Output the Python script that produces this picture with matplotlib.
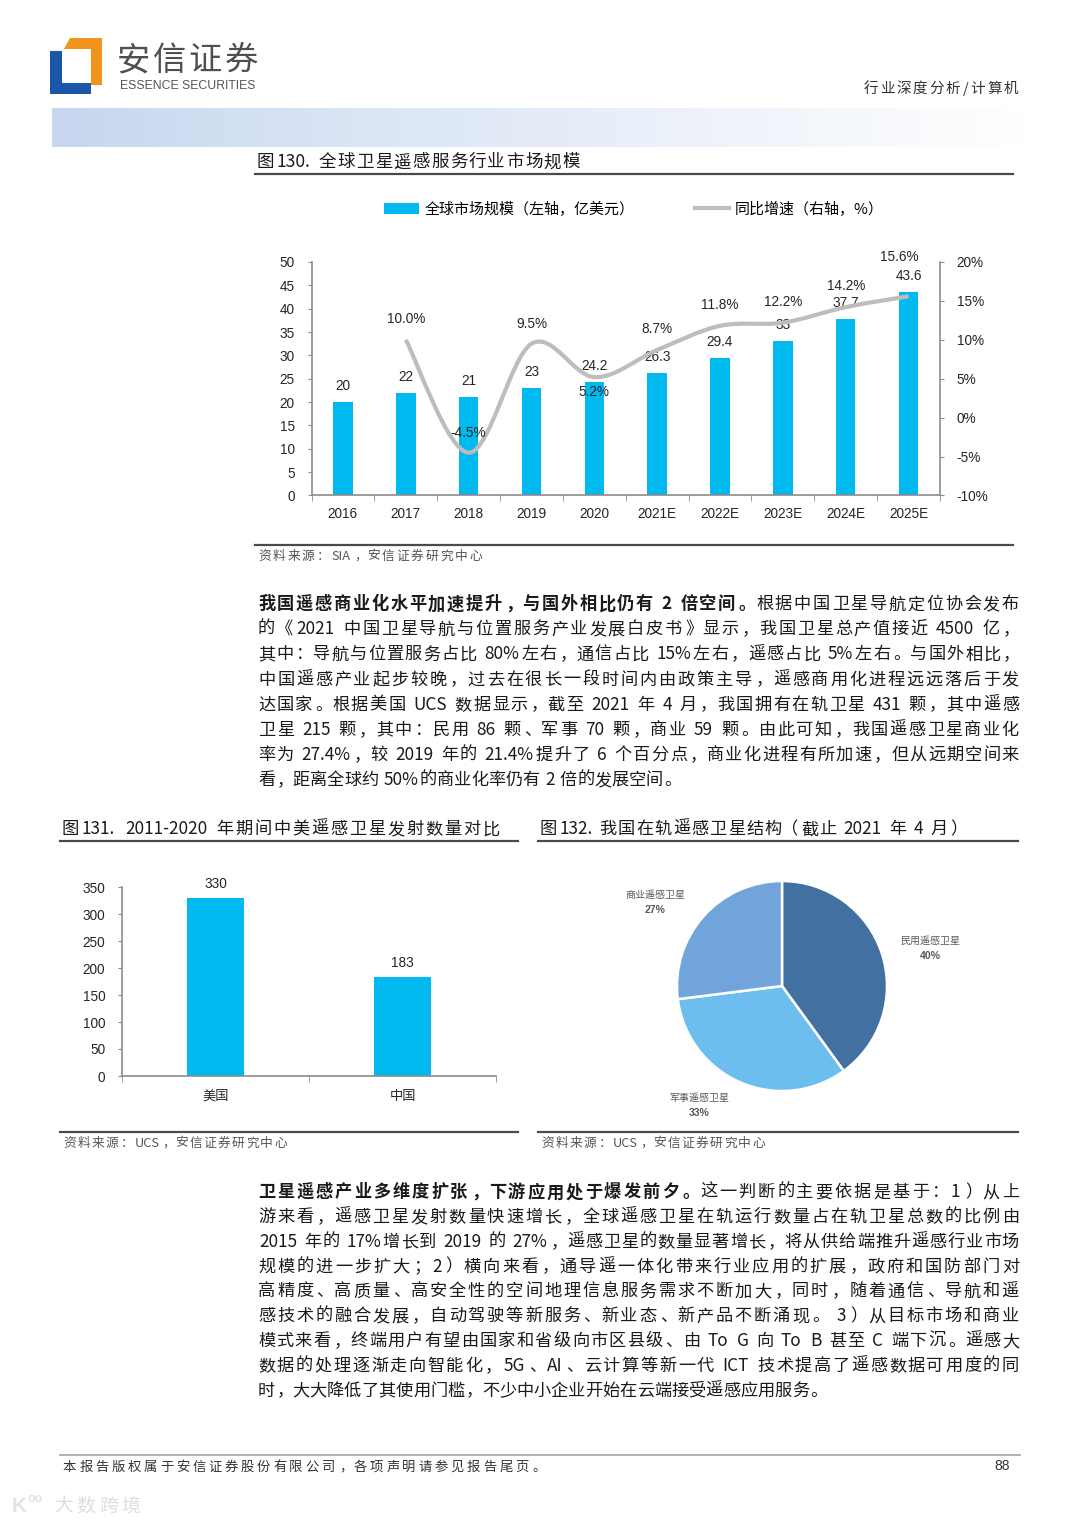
import re
import numpy as np
import matplotlib
matplotlib.use('Agg')
import matplotlib.pyplot as plt
from matplotlib.font_manager import FontProperties
from matplotlib.patches import Polygon, PathPatch
from matplotlib.path import Path
from matplotlib.lines import Line2D

# ---- data -------------------------------------------------------------------
years = ['2016', '2017', '2018', '2019', '2020',
         '2021E', '2022E', '2023E', '2024E', '2025E']
market = [20, 22, 21, 23, 24.2, 26.3, 29.4, 33, 37.7, 43.6]
growth = [10.0, -4.5, 9.5, 5.2, 8.7, 11.8, 12.2, 14.2, 15.6]   # 2017 .. 2025E

countries = ['美国', '中国']
launches = [330, 183]

pie_names = ['民用遥感卫星', '军事遥感卫星', '商业遥感卫星']
pie_vals = [40, 33, 27]

para1 = [
    '我国遥感商业化水平加速提升，与国外相比仍有 2 倍空间。根据中国卫星导航定位协会发布',
    '的《2021 中国卫星导航与位置服务产业发展白皮书》显示，我国卫星总产值接近 4500 亿，',
    '其中：导航与位置服务占比 80%左右，通信占比 15%左右，遥感占比 5%左右。与国外相比，',
    '中国遥感产业起步较晚，过去在很长一段时间内由政策主导，遥感商用化进程远远落后于发',
    '达国家。根据美国 UCS 数据显示，截至 2021 年 4 月，我国拥有在轨卫星 431 颗，其中遥感',
    '卫星 215 颗，其中：民用 86 颗、军事 70 颗，商业 59 颗。由此可知，我国遥感卫星商业化',
    '率为 27.4%，较 2019 年的 21.4%提升了 6 个百分点，商业化进程有所加速，但从远期空间来',
    '看，距离全球约 50%的商业化率仍有 2 倍的发展空间。',
]
para1_bold = '我国遥感商业化水平加速提升，与国外相比仍有 2 倍空间。'

para2 = [
    '卫星遥感产业多维度扩张，下游应用处于爆发前夕。这一判断的主要依据是基于：1）从上',
    '游来看，遥感卫星发射数量快速增长，全球遥感卫星在轨运行数量占在轨卫星总数的比例由',
    '2015 年的 17%增长到 2019 的 27%，遥感卫星的数量显著增长，将从供给端推升遥感行业市场',
    '规模的进一步扩大；2）横向来看，通导遥一体化带来行业应用的扩展，政府和国防部门对',
    '高精度、高质量、高安全性的空间地理信息服务需求不断加大，同时，随着通信、导航和遥',
    '感技术的融合发展，自动驾驶等新服务、新业态、新产品不断涌现。 3）从目标市场和商业',
    '模式来看，终端用户有望由国家和省级向市区县级、由 To G 向 To B 甚至 C 端下沉。遥感大',
    '数据的处理逐渐走向智能化，5G、AI、云计算等新一代 ICT 技术提高了遥感数据可用度的同',
    '时，大大降低了其使用门槛，不少中小企业开始在云端接受遥感应用服务。',
]
para2_bold = '卫星遥感产业多维度扩张，下游应用处于爆发前夕。'

# ---- page setup -------------------------------------------------------------
W, H, DPI = 1080, 1527, 100
plt.rcParams['font.family'] = ['Liberation Sans', 'Noto Sans CJK SC', 'DejaVu Sans']
BODY = ['Noto Sans CJK SC', 'DejaVu Sans']
BAR_C = '#00b9ef'
LINE_C = '#bdbdbd'
SPINE_C = '#8c8c8c'
TXT_C = '#262626'

fig = plt.figure(figsize=(W / DPI, H / DPI), dpi=DPI)
fig.patch.set_facecolor('white')
rend = fig.canvas.get_renderer()

bg = fig.add_axes([0, 0, 1, 1])
bg.axis('off')


def add_ax(l, t, r, b):
    return fig.add_axes([l / W, 1 - b / H, (r - l) / W, (b - t) / H])


LEFT_P = set('，。：；、）》')
RIGHT_P = set('（《')


def draw_line(s, x0, y, size, x1=None, color='#1a1a1a', bold='', family=BODY):
    # lay out one line token by token, spread to x1 when given
    em = size * DPI / 72
    toks = re.findall(r'[A-Za-z0-9.%/\-]+| |.', s)
    items, n = [], 0
    for t in toks:
        wt = 'bold' if n < len(bold) else 'normal'
        n += len(t)
        if t == ' ':
            w = 0.25 * em
        elif t.isascii():
            fp = FontProperties(family=family, size=size, weight=wt)
            w = rend.get_text_width_height_descent(t, fp, ismath=False)[0] + 0.1 * em
        else:
            w = em
        items.append((t, w, wt))
    gap = 0
    if x1 is not None and len(items) > 1:
        gap = (x1 - x0 - sum(i[1] for i in items)) / (len(items) - 1)
    x = x0
    base = y + 0.36 * em
    for t, w, wt in items:
        if t != ' ':
            if t in LEFT_P:
                ha, tx = 'left', x + 0.08 * em
            elif t in RIGHT_P:
                ha, tx = 'right', x + 0.92 * em
            elif t.isascii():
                ha, tx = 'left', x + 0.05 * em
            else:
                ha, tx = 'center', x + w / 2
            bg.text(tx, base, t, ha=ha, va='baseline', fontsize=size,
                    family=family, weight=wt, color=color)
        x += w + gap


def paragraph(lines, y0, dy, bold):
    done = 0
    for k, ln in enumerate(lines):
        b = bold[done:] if done < len(bold) else ''
        b = b[:len(ln)] if ln.startswith(b[:1] if b else '\0') else ''
        done += len(ln)
        last = k == len(lines) - 1
        draw_line(ln, 258, y0 + k * dy, 12.4, None if last else 1019, bold=b)


# ---- header -----------------------------------------------------------------
bg.add_patch(Polygon([(70, 38), (102, 38), (102, 85), (91, 85), (91, 49), (64, 49)],
                     closed=True, color='#f0941c', lw=0))
bg.add_patch(Polygon([(50, 51), (62, 51), (62, 83), (91, 83), (91, 94), (50, 94)],
                     closed=True, color='#1b56a9', lw=0))
draw_line('安信证券', 117, 58, 24, x1=258, color='#4f4f4f')
bg.text(120, 86, 'ESSENCE SECURITIES', fontsize=8.8, va='center', ha='left',
        family=['Liberation Sans Narrow', 'Liberation Sans'], color='#555555')
draw_line('行业深度分析/计算机', 864, 88, 10.5, x1=1018, color='#333333')

grad = np.linspace(0, 1, 256) ** 0.9
rgb = np.array([198, 214, 239]) / 255
img = (rgb[None, :] * (1 - grad[:, None]) + grad[:, None])[None, :, :]
bg.imshow(img, extent=(52, 1030, 147, 108), aspect='auto', interpolation='bilinear')
bg.set_xlim(0, W)
bg.set_ylim(H, 0)

# ---- figure 130 -------------------------------------------------------------
draw_line('图130. 全球卫星遥感服务行业市场规模', 257, 161, 12.6, x1=580)
bg.plot([255, 1013], [174, 174], color='#4a4a4a', lw=1.6)
bg.plot([255, 1013], [545, 545], color='#4a4a4a', lw=1.6)
draw_line('资料来源：SIA，安信证券研究中心', 258, 555, 9.2, x1=482, color='#555555')

ax = add_ax(311.5, 262, 940, 495.5)
xi = np.arange(len(years))
bars = ax.bar(xi, market, width=0.31, color=BAR_C, zorder=2)
ax.bar_label(bars, labels=['%g' % v for v in market], padding=6.5,
             fontsize=9.8, color=TXT_C)
ax.set_xlim(-0.5, len(years) - 0.5)
ax.set_ylim(0, 50)
ax.set_yticks(range(0, 51, 5))
ax.set_xticks(xi)
ax.set_xticklabels(years)
ax.set_xticks(np.arange(-0.5, len(years), 1), minor=True)
ax.tick_params(axis='x', which='major', length=0, pad=8, labelsize=9.8, labelcolor=TXT_C)
ax.tick_params(axis='x', which='minor', length=4, color=SPINE_C, direction='out')
ax.tick_params(axis='y', length=3, color=SPINE_C, pad=9, labelsize=9.8, labelcolor=TXT_C)
for s in ['top', 'right']:
    ax.spines[s].set_visible(False)
for s in ['left', 'bottom']:
    ax.spines[s].set_color(SPINE_C)
    ax.spines[s].set_linewidth(1.2)

ax2 = ax.twinx()
ax2.set_ylim(-10, 20)
ax2.set_yticks(range(-10, 21, 5))
ax2.set_yticklabels(['%d%%' % v for v in range(-10, 21, 5)])
ax2.tick_params(axis='y', length=3, color=SPINE_C, pad=9, labelsize=9.8, labelcolor=TXT_C)
for s in ['top', 'left', 'bottom']:
    ax2.spines[s].set_visible(False)
ax2.spines['right'].set_color(SPINE_C)
ax2.spines['right'].set_linewidth(1.2)

# smoothed growth line (Catmull-Rom through the points)
gx = np.arange(len(years) - len(growth), len(years))
pts = np.column_stack([gx, growth]).astype(float)
ext = np.vstack([pts[0], pts, pts[-1]])
verts, codes = [pts[0]], [Path.MOVETO]
for i in range(len(pts) - 1):
    p0, p1, p2, p3 = ext[i], ext[i + 1], ext[i + 2], ext[i + 3]
    verts += [p1 + (p2 - p0) / 6, p2 - (p3 - p1) / 6, p2]
    codes += [Path.CURVE4] * 3
ax2.add_patch(PathPatch(Path(verts, codes), fill=False, edgecolor=LINE_C,
                        lw=3, capstyle='butt', zorder=3))
lab_dy = [21, 20, 20, -15, 21, 21, 21, 21, 39]
lab_dx = [0, 0, 0, 0, 0, 0, 0, 0, -9]
for x, g, dx, dy in zip(gx, growth, lab_dx, lab_dy):
    ax2.annotate('%.1f%%' % g, (x, g), xytext=(dx, dy), textcoords='offset pixels',
                 ha='center', va='center', fontsize=9.8, color=TXT_C, zorder=4)

proxy = Line2D([], [], color=LINE_C, lw=3)
ax.legend([bars, proxy], ['全球市场规模（左轴，亿美元）', '同比增速（右轴，%）'],
          loc='center', bbox_to_anchor=(634 / W, 1 - 209 / H),
          bbox_transform=fig.transFigure, ncol=2, frameon=False,
          handlelength=2.3, handletextpad=0.4, columnspacing=4.0,
          prop=FontProperties(family=BODY, size=10.8))

# ---- text paragraph 1 -------------------------------------------------------
paragraph(para1, 603, 25.1, para1_bold)

# ---- figure 131 / 132 titles -------------------------------------------------
draw_line('图131. 2011-2020 年期间中美遥感卫星发射数量对比', 62, 828, 12.4, x1=500,
          color='#1a1a1a')
draw_line('图132. 我国在轨遥感卫星结构（截止 2021 年 4 月）', 540, 828, 12.4, x1=966,
          color='#1a1a1a')
bg.plot([60, 518], [841, 841], color='#4a4a4a', lw=1.6)
bg.plot([538, 1018], [841, 841], color='#4a4a4a', lw=1.6)
bg.plot([60, 518], [1132, 1132], color='#4a4a4a', lw=1.6)
bg.plot([538, 1018], [1132, 1132], color='#4a4a4a', lw=1.6)
draw_line('资料来源：UCS，安信证券研究中心', 63, 1142, 9.2, x1=287, color='#555555')
draw_line('资料来源：UCS，安信证券研究中心', 541, 1142, 9.2, x1=765, color='#555555')

# ---- figure 131 bars ---------------------------------------------------------
bx = add_ax(122, 887, 496, 1076)
ci = np.arange(len(countries))
b2 = bx.bar(ci, launches, width=0.31, color=BAR_C)
bx.bar_label(b2, labels=['%d' % v for v in launches], padding=5,
             fontsize=9.8, color=TXT_C)
bx.set_xlim(-0.5, len(countries) - 0.5)
bx.set_ylim(0, 350)
bx.set_yticks(range(0, 351, 50))
bx.set_xticks(ci)
bx.set_xticklabels(countries, family=BODY)
bx.set_xticks(np.arange(-0.5, len(countries), 1), minor=True)
bx.tick_params(axis='x', which='major', length=0, pad=10, labelsize=9.5, labelcolor=TXT_C)
bx.tick_params(axis='x', which='minor', length=4, color=SPINE_C, direction='out')
bx.tick_params(axis='y', length=3, color=SPINE_C, pad=9, labelsize=9.8, labelcolor=TXT_C)
for s in ['top', 'right']:
    bx.spines[s].set_visible(False)
for s in ['left', 'bottom']:
    bx.spines[s].set_color(SPINE_C)
    bx.spines[s].set_linewidth(1.2)

# ---- figure 132 pie ----------------------------------------------------------
R = 105
cx, cy = 782, 986
px = add_ax(cx - 1.6 * R, cy - 1.6 * R, cx + 1.6 * R, cy + 1.6 * R)
wedges, _ = px.pie(pie_vals, colors=['#4271a1', '#6dbdee', '#72a4dc'],
                   startangle=90, counterclock=False,
                   wedgeprops=dict(edgecolor='white', linewidth=1.8))
px.set_xlim(-1.6, 1.6)
px.set_ylim(-1.6, 1.6)
px.set_aspect('equal')
lbl_dist = [1.46, 1.38, 1.45]
lbl_shift = [-3.5, -11.6, 8]
for w, name, v, d, sh in zip(wedges, pie_names, pie_vals, lbl_dist, lbl_shift):
    a = np.deg2rad((w.theta1 + w.theta2) / 2 + sh)
    pos = (d * np.cos(a), d * np.sin(a))
    px.annotate(name, pos, xytext=(0, 7), textcoords='offset pixels', ha='center',
                va='center', fontsize=7.2, color='#595959', family=BODY)
    px.annotate('%d%%' % v, pos, xytext=(0, -8), textcoords='offset pixels',
                ha='center', va='center', fontsize=7.6, color='#595959',
                weight='bold')

# ---- text paragraph 2 -------------------------------------------------------
paragraph(para2, 1191, 24.8, para2_bold)

# ---- footer -----------------------------------------------------------------
bg.plot([60, 1020], [1455, 1455], color='#a6a6a6', lw=1.2)
draw_line('本报告版权属于安信证券股份有限公司，各项声明请参见报告尾页。', 63, 1466, 9.6,
          x1=545, color='#333333')
bg.text(1010, 1466, '88', ha='right', va='center', fontsize=10, color='#333333')
bg.text(12, 1506, 'K', ha='left', va='center', fontsize=15, color='#e3e3e3', weight='bold')
bg.text(27, 1499, 'oo', ha='left', va='center', fontsize=9, color='#e3e3e3', weight='bold')
draw_line('大数跨境', 54, 1505, 13.5, x1=140, color='#dedede')

fig.savefig('out.png', dpi=DPI, facecolor='white')
